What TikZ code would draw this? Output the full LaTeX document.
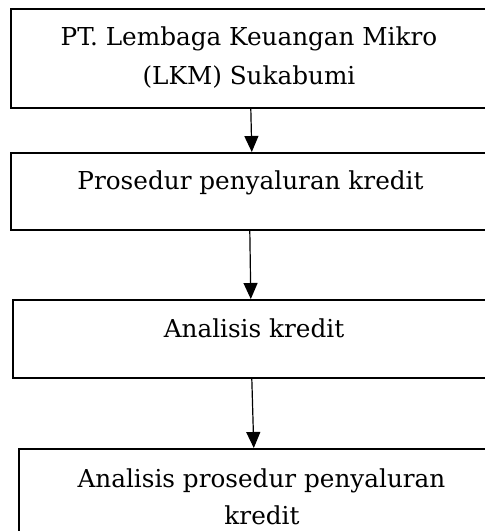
\documentclass[tikz,border=0pt]{standalone}
\usepackage{fontspec}
\setmainfont{DejaVu Serif}
\usetikzlibrary{arrows.meta}
\begin{document}
\begin{tikzpicture}[x=1pt,y=-1pt,
  box/.style={draw, line width=1.6pt, inner sep=0pt, anchor=north west},
  txt/.style={anchor=base, inner sep=0pt, font=\fontsize{24.7}{38}\selectfont},
  arr/.style={line width=1.2pt, -{Triangle[length=16pt,width=14pt]}}]
\useasboundingbox (0,0) rectangle (485,531);
\begin{scope}
\clip (0,0) rectangle (485,531);
\node[box, minimum width=478pt, minimum height=99pt] (b1) at (10,8) {};
\node[box, minimum width=481pt, minimum height=77pt] (b2) at (10,152) {};
\node[box, minimum width=484pt, minimum height=78pt] (b3) at (12,299) {};
\node[box, minimum width=488pt, minimum height=110pt] (b4) at (18,448) {};
\end{scope}
\node[txt] (t1a) at (249,45) {PT. Lembaga Keuangan Mikro};
\node[txt] (t1b) at (249,84) {(LKM) Sukabumi};
\node[txt] (t2) at (250.5,189) {Prosedur penyaluran kredit};
\node[txt] (t3) at (254,337) {Analisis kredit};
\node[txt] (t4a) at (261.5,487) {Analisis prosedur penyaluran};
\node[txt] (t4b) at (262,524) {kredit};
\draw[arr] ([xshift=1pt]b1.south) -- ([xshift=0.5pt]b2.north);
\draw[arr] ([xshift=-1.5pt]b2.south) -- ([xshift=-4pt]b3.north);
\draw[arr] ([xshift=-3pt]b3.south) -- ([xshift=-9pt]b4.north);
\end{tikzpicture}
\end{document}
